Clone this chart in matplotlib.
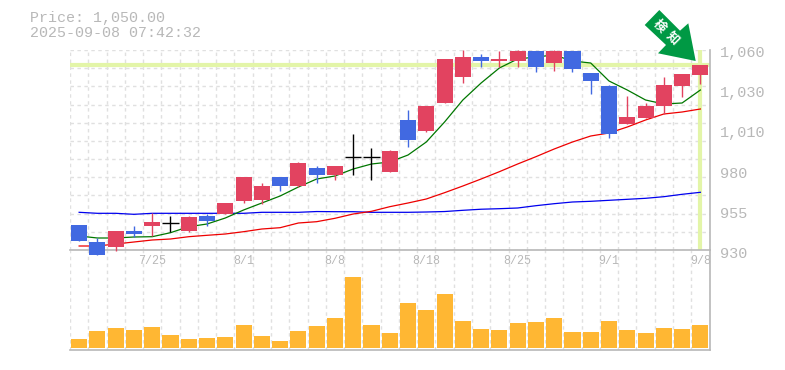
import numpy as np
import matplotlib
matplotlib.use('Agg')
import matplotlib.pyplot as plt
from matplotlib.patches import Polygon
from matplotlib.transforms import Affine2D

# daily prices
opens = [946.3, 935.4, 932.0, 942.35, 945.6, 947.55, 942.35, 952.1, 953.4, 961.85, 962.5, 977.45,
         971.6, 983.3, 978.75, 990.25, 990.25, 980.7, 1014.5, 1007.35, 1025.55, 1042.45, 1055.45,
         1052.85, 1052.85, 1059.35, 1051.55, 1059.35, 1045.05, 1036.6, 1011.9, 1015.8, 1023.6,
         1036.6, 1043.75]
closes = [935.85, 926.75, 942.35, 940.4, 948.2, 947.55, 951.45, 948.85, 960.55, 977.45, 971.6, 971.6,
          986.55, 978.75, 984.6, 990.25, 990.25, 994.35, 1001.5, 1023.6, 1054.15, 1055.45, 1052.85,
          1054.15, 1059.35, 1048.95, 1059.35, 1047.65, 1039.85, 1005.4, 1016.45, 1023.6, 1037.25,
          1044.4, 1050.0]
highs = [946.3, 937.6, 942.35, 945.6, 953.9, 952.1, 952.1, 953.4, 960.55, 977.45, 973.55, 977.45,
         987.2, 984.6, 984.6, 1005.4, 996.3, 995.0, 1021.0, 1023.6, 1054.15, 1060.0, 1057.4,
         1059.35, 1060.0, 1059.35, 1060.0, 1059.35, 1045.05, 1037.25, 1030.1, 1025.55, 1042.45,
         1044.4, 1050.0]
lows = [935.85, 926.75, 929.5, 938.45, 939.1, 941.7, 941.7, 945.6, 953.4, 960.55, 959.9, 968.35,
        970.95, 973.55, 975.5, 978.75, 975.5, 980.7, 997.0, 1006.7, 1025.55, 1038.55, 1048.95,
        1048.95, 1048.95, 1045.7, 1046.35, 1045.7, 1031.4, 1002.8, 1011.9, 1015.8, 1018.4,
        1029.45, 1037.9]

# moving averages
ma_short = [939.1, 937.8, 937.8, 938.45, 938.65, 941.25, 945.15, 946.9, 950.8, 956.0, 960.55, 965.1,
            970.95, 976.15, 978.1, 982.65, 985.9, 987.2, 991.75, 1000.2, 1013.2, 1027.5, 1038.55,
            1048.3, 1054.15, 1055.45, 1056.75, 1052.85, 1051.55, 1039.85, 1034.0, 1027.5, 1024.9,
            1025.55, 1034.0]
ma_mid = [932.6, 932.6, 933.9, 935.2, 936.5, 937.15, 938.65, 939.55, 940.4, 941.9, 943.65, 944.5,
          947.55, 948.4, 950.6, 953.4, 955.15, 958.15, 960.55, 963.15, 967.25, 971.6, 976.15,
          980.9, 985.9, 990.65, 995.65, 1000.2, 1004.1, 1006.05, 1009.95, 1014.5, 1018.4,
          1019.7, 1021.65]
ma_long = [954.5, 953.85, 953.85, 953.2, 953.85, 953.85, 953.85, 953.85, 953.85, 953.85, 954.5, 954.5,
           954.5, 955.0, 954.9, 954.9, 954.5, 954.5, 954.5, 954.7, 955.0, 955.8, 956.5, 956.85,
           957.3, 958.8, 960.1, 961.2, 961.65, 962.3, 962.95, 963.6, 964.65, 966.2, 967.5]

volumes = [9, 17, 20, 18, 21, 13, 9, 10, 11, 23, 12, 7, 17, 22, 30, 71, 23, 15, 45, 38, 54, 27,
           19, 18, 25, 26, 30, 16, 16, 27, 18, 15, 20, 19, 23]

date_pos = [4, 9, 14, 19, 24, 29, 34]
date_labels = ['7/25', '8/1', '8/8', '8/18', '8/25', '9/1', '9/8']
price_ticks = [1060, 1034, 1008, 982, 956, 930]
price_labels = ['1,060', '1,030', '1,010', '980', '955', '930']
last_price = 1050.0
title_lines = ['Price: 1,050.00', '2025-09-08 07:42:32']

W, H = 785, 370
n = len(closes)
x = np.arange(n)
GREY = '#b8b8b8'
GRID = '#e0e0e0'
UP = '#e24360'
DOWN = '#4169e1'

plt.rcParams['font.family'] = ['Liberation Mono', 'DejaVu Sans Mono']

fig = plt.figure(figsize=(W / 100, H / 100), dpi=100)
ax2 = fig.add_axes([70 / W, 1 - 350 / H, 639.5 / W, 100 / H])
ax = fig.add_axes([70 / W, 1 - 250 / H, 639.5 / W, 200 / H])
ax.patch.set_visible(False)
ax.set_zorder(3)

# price panel
ax.set_xlim(-0.5, n - 0.5)
ax.set_ylim(930, 1060)
ax.set_xticks(np.arange(n + 1) - 0.5)
ax.set_yticks(np.linspace(930, 1060, 12))
ax.grid(True, color=GRID, linestyle=(0, (2.5, 2.5)), linewidth=1)
ax.set_axisbelow(True)
ax.tick_params(length=0, labelbottom=False, labelleft=False)
for s in ['top', 'left']:
    ax.spines[s].set_visible(False)
for s in ['right', 'bottom']:
    ax.spines[s].set_color(GREY)
    ax.spines[s].set_linewidth(1.2)

ax.axhline(last_price, color='#e3f5a8', linewidth=3, zorder=1)
ax.axvline(x[-1], color='#e3f5a8', linewidth=3, zorder=1)

ax.plot(x, ma_long, color='#0000ee', linewidth=0.9, zorder=2)
ax.plot(x, ma_mid, color='#ee0000', linewidth=0.9, zorder=2)
ax.plot(x, ma_short, color='#007700', linewidth=0.9, zorder=2)

for i in x:
    if closes[i] > opens[i]:
        c = UP
    elif closes[i] < opens[i]:
        c = DOWN
    else:
        c = 'black'
    ax.plot([i, i], [lows[i], highs[i]], color=c, linewidth=1, zorder=3, clip_on=False,
            solid_capstyle='butt')
    if c == 'black':
        ax.plot([i - 0.44, i + 0.44], [opens[i], opens[i]], color=c, linewidth=1, zorder=3,
                solid_capstyle='butt')
    else:
        ax.bar(i, abs(closes[i] - opens[i]), bottom=min(opens[i], closes[i]), width=0.88,
               color=c, zorder=3, clip_on=False)

for t, lab in zip(price_ticks, price_labels):
    fig.text(720 / W, 1 - (50 + (1060 - t) / 0.65 + 3.5) / H, lab, color=GREY, fontsize=11,
             ha='left', va='center')

# volume panel
ax2.set_xlim(-0.5, n - 0.5)
ax2.set_ylim(-2, 98)
ax2.set_xticks(np.arange(n + 1) - 0.5)
ax2.set_yticks([])
ax2.grid(True, axis='x', color=GRID, linestyle=(0, (2.5, 2.5)), linewidth=1)
ax2.set_axisbelow(True)
ax2.tick_params(length=0, labelbottom=False, labelleft=False)
ax2.bar(x, volumes, width=0.88, color='#ffb733', zorder=3)
for s in ['top', 'left']:
    ax2.spines[s].set_visible(False)
for s in ['right', 'bottom']:
    ax2.spines[s].set_color(GREY)
    ax2.spines[s].set_linewidth(1.2)

for p, lab in zip(date_pos, date_labels):
    ax2.text(p, 87, lab, color=GREY, fontsize=8.4, ha='center', va='center')

# header
fig.text(30 / W, 1 - 18 / H, title_lines[0], color=GREY, fontsize=10.8, ha='left', va='center')
fig.text(30 / W, 1 - 33 / H, title_lines[1], color=GREY, fontsize=10.8, ha='left', va='center')

# green arrow badge, pixel outline from top-left of the picture
arrow_px = [(659.3, 10), (644.7, 25), (666, 45), (658, 53.3), (695.7, 61), (688.3, 23.3), (680, 30.7)]
to_fig = Affine2D().scale(1 / W, -1 / H).translate(0, 1) + fig.transFigure
fig.add_artist(Polygon(arrow_px, closed=True, facecolor='#009944', edgecolor='none',
                       transform=to_fig, zorder=5))
fig.text(659.5 / W, 1 - 26.5 / H, '検', color='white', fontsize=9, rotation=-45, ha='center', va='center',
         family=['Noto Sans CJK JP', 'DejaVu Sans'], fontweight='bold', zorder=6)
fig.text(672.5 / W, 1 - 38.5 / H, '知', color='white', fontsize=9, rotation=-45, ha='center', va='center',
         family=['Noto Sans CJK JP', 'DejaVu Sans'], fontweight='bold', zorder=6)

fig.savefig('out.png', dpi=100)
